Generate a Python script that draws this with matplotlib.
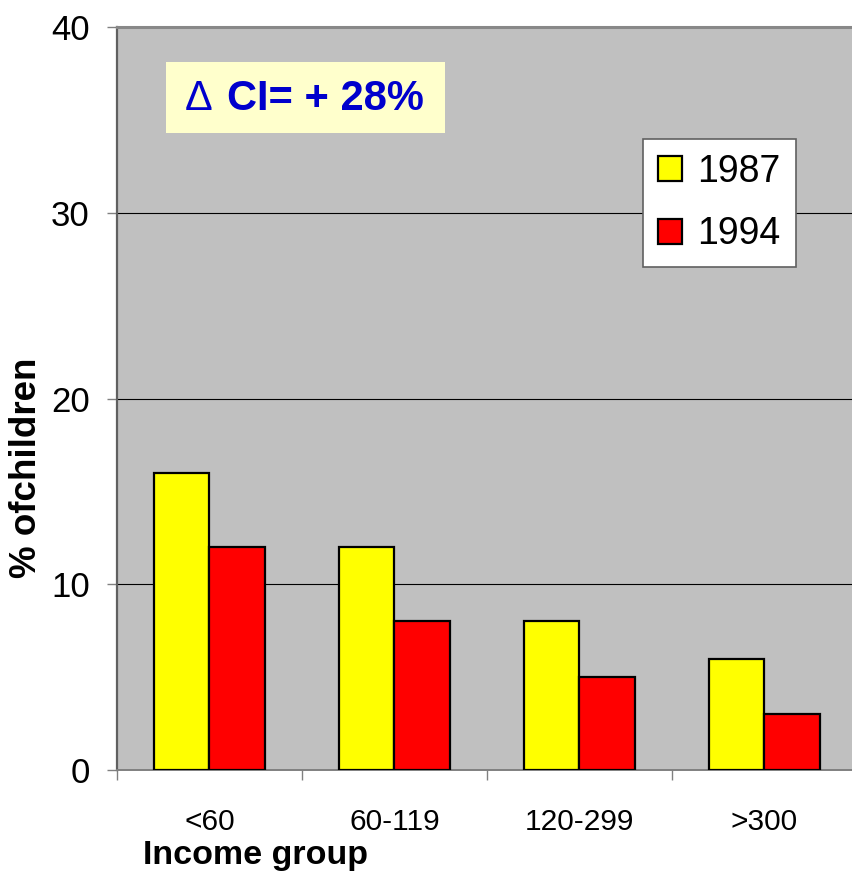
import numpy as np
import matplotlib.pyplot as plt
from matplotlib.ticker import FixedLocator

groups   = ["<60", "60-119", "120-299", ">300"]
years    = ["1987", "1994"]
vals1987 = [16, 12, 8, 6]
vals1994 = [12, 8, 5, 3]

plt.rcParams['font.family'] = ['Liberation Sans', 'DejaVu Sans']

W, H = 853, 871
fig = plt.figure(figsize=(W / 100, H / 100), dpi=100)
ax = fig.add_axes([117 / W, 101 / H, (W - 117) / W, 743 / H])
ax.set_facecolor('#C0C0C0')

x = np.arange(len(groups))
bw = 0.3
ax.bar(x - bw / 2, vals1987, bw, color='#FFFF00', edgecolor='black', linewidth=1.6, label=years[0], zorder=3)
ax.bar(x + bw / 2, vals1994, bw, color='#FF0000', edgecolor='black', linewidth=1.6, label=years[1], zorder=3)

ax.set_ylim(0, 40)
ax.set_xlim(-0.5, -0.5 + (W - 117) / 185)
ax.set_yticks([0, 10, 20, 30, 40])
ax.yaxis.grid(True, color='black', linewidth=0.8, zorder=1)
ax.tick_params(axis='y', labelsize=25, length=7.5, width=1, color='#808080', pad=12)

# category boundaries carry the tick marks, centres carry the labels
ax.xaxis.set_major_locator(FixedLocator([-0.5, 0.5, 1.5, 2.5]))
ax.xaxis.set_major_formatter(plt.NullFormatter())
ax.xaxis.set_minor_locator(FixedLocator(x))
ax.set_xticklabels(groups, minor=True, fontsize=21.5)
ax.tick_params(axis='x', which='major', length=7.5, width=1, color='#808080')
ax.tick_params(axis='x', which='minor', length=0, pad=27)

for s in ['top', 'right']:
    ax.spines[s].set_visible(False)
ax.axhline(40, color='#888888', linewidth=2.2, zorder=4, clip_on=False)
ax.spines['left'].set_color('#606060'); ax.spines['left'].set_linewidth(1.6)
ax.spines['bottom'].set_color('#808080'); ax.spines['bottom'].set_linewidth(1.4)

ax.set_ylabel('% ofchildren', fontsize=26.5, fontweight='bold')
ax.yaxis.set_label_coords((44 - 117) / (W - 117), (770 - 468) / 743)
fig.text(256 / W, 1 - 855 / H, 'Income group', fontsize=24.5, fontweight='bold', ha='center', va='center')

# annotation box
fig.patches.append(plt.Rectangle((166 / W, 1 - 133 / H), (445 - 166) / W, (133 - 62) / H,
                                 transform=fig.transFigure, facecolor='#FFFFCC', edgecolor='none', zorder=5))
fig.text(199 / W, 1 - 99 / H, '\u0394', fontsize=30, color='#0000CC', ha='center', va='center', zorder=6)
fig.text(424 / W, 1 - 99 / H, 'CI= + 28%', fontsize=30, fontweight='bold', color='#0000CC',
         ha='right', va='center', zorder=6)

leg = ax.legend(loc='upper left', bbox_to_anchor=((643 - 117) / (W - 117), (770 - 139) / 743),
                fontsize=27, frameon=True, fancybox=False, framealpha=1, facecolor='white',
                handlelength=0.65, handleheight=0.65, handletextpad=0.4, labelspacing=0.7,
                borderpad=0.4, borderaxespad=0)
leg.get_frame().set_edgecolor('#606060')
leg.get_frame().set_linewidth(1.2)
leg.set_zorder(6)

fig.savefig('out.png', dpi=100)
